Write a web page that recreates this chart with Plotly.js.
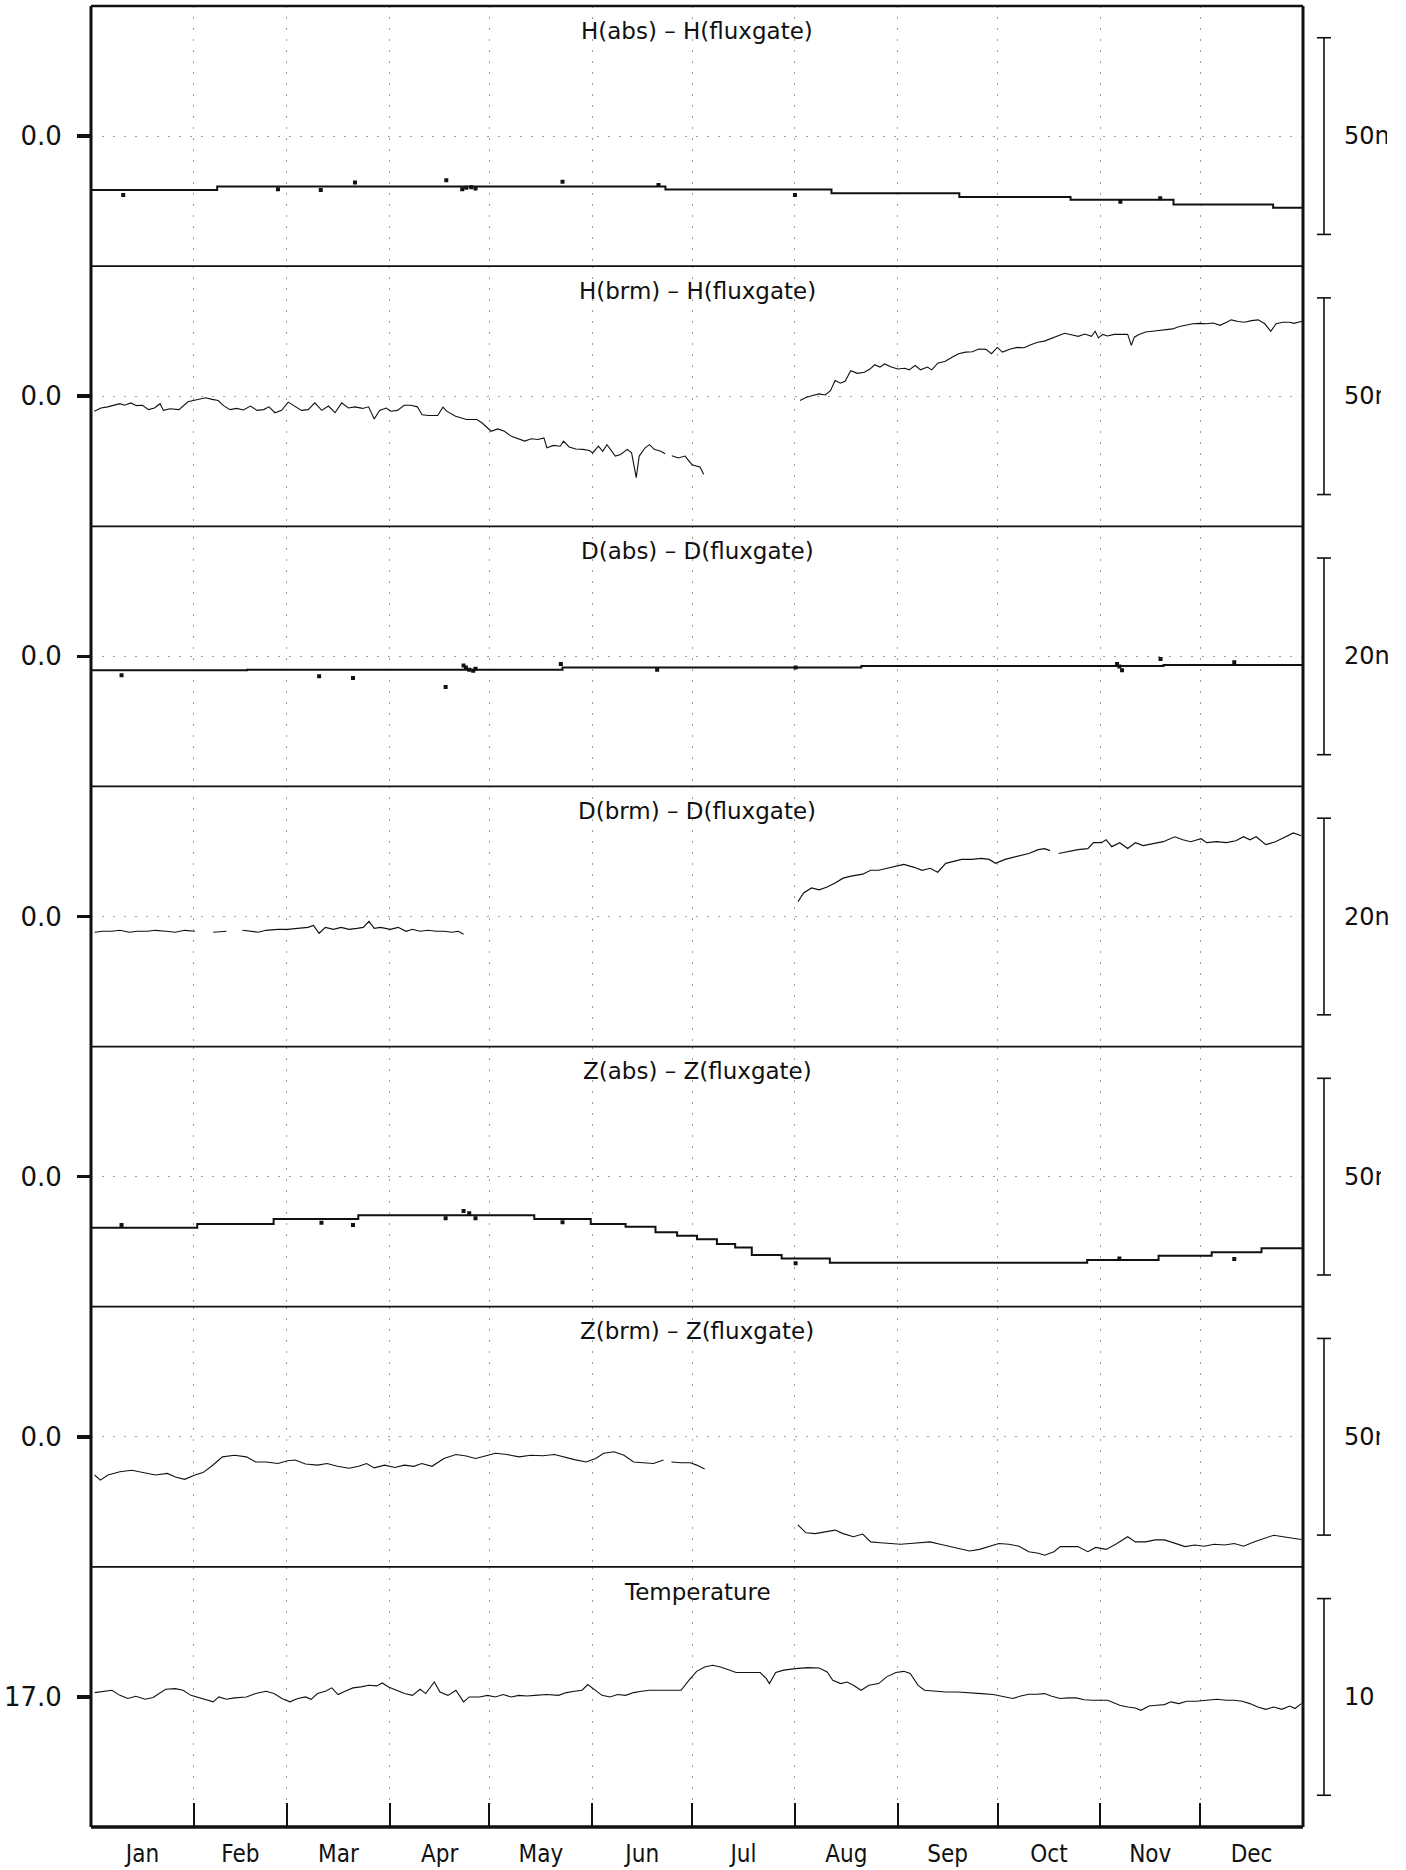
<!DOCTYPE html>
<html>
<head>
<meta charset="utf-8">
<script src="https://cdn.plot.ly/plotly-3.0.1.min.js"></script>
<style>
  html, body { margin: 0; padding: 0; background: #fff; overflow: hidden; }
  #wrap { position: relative; width: 1406px; height: 1870px; }
  #chart { position: absolute; left: 0; top: 0; width: 1406px; height: 1870px; }
  /* page edge past the scale labels */
  #edge { position: absolute; top: 0; left: 1376px; width: 30px; height: 1870px; background: #fff;
          clip-path: polygon(11px 0, 30px 0, 30px 100%, 4px 100%, 4px 1300px, 5px 1300px, 5px 1050px, 12px 1050px, 12px 530px, 5px 530px, 5px 268px, 11px 268px); }
</style>
</head>
<body>
<div id="wrap"><div id="chart"></div><div id="edge"></div></div>
<script>
// Day-of-year axis (non-leap year)
const monthStarts = [31, 59, 90, 120, 151, 181, 212, 243, 273, 304, 334];
const monthMids = [15.5, 45, 74.5, 105, 135.5, 166, 196.5, 227.5, 258, 288.5, 319, 349.5];
const monthNames = ['Jan', 'Feb', 'Mar', 'Apr', 'May', 'Jun', 'Jul', 'Aug', 'Sep', 'Oct', 'Nov', 'Dec'];

// Panel headings, scale bars and reference levels
const panelTitles = ['H(abs) – H(fluxgate)', 'H(brm) – H(fluxgate)', 'D(abs) – D(fluxgate)',
                     'D(brm) – D(fluxgate)', 'Z(abs) – Z(fluxgate)', 'Z(brm) – Z(fluxgate)', 'Temperature'];
const scaleSpan = [50, 50, 20, 20, 50, 50, 10];
const scaleText = ['50nT', '50nT', '20nT', '20nT', '50nT', '50nT', '10'];
const refLevel = [0, 0, 0, 0, 0, 0, 17];
const refText = ['0.0', '0.0', '0.0', '0.0', '0.0', '0.0', '17.0'];

// H(abs) - H(fluxgate): adopted baseline (steps) and absolute observations
const hAbsStepDays = [0, 38, 173, 223, 261.5, 295, 326, 356, 365];
const hAbsStepVals = [-13.7, -12.8, -13.6, -14.5, -15.5, -16.2, -17.4, -18.2, -18.2];
const hAbsObsDays = [9.7, 56.3, 69.2, 79.5, 107, 111.8, 113, 114.5, 115.8, 142, 170.9, 212, 310, 322];
const hAbsObsVals = [-15.0, -13.5, -13.7, -11.8, -11.2, -13.5, -13.1, -13.0, -13.3, -11.6, -12.4, -15.0, -16.7, -15.8];

// H(brm) - H(fluxgate): daily differences (null = no data)
const hBrmDays = [1.0, 3.0, 5.0, 7.0, 8.7, 10.1, 12.0, 13.7, 15.5, 17.3, 19.1, 20.8, 21.8, 23.8, 26.5, 29.2, 31.8, 34.5, 36.5, 38.3,
  39.9, 41.9, 43.9, 45.9, 48.0, 50.0, 52.0, 53.6, 55.4, 57.4, 59.4, 61.4, 63.4, 65.4, 67.4, 69.5, 71.5, 73.5, 75.5, 77.5,
  79.5, 81.8, 83.6, 85.3, 86.9, 88.9, 90.3, 92.3, 94.3, 96.3, 98.3, 99.7, 101.7, 104.4, 106.0, 107.1, 109.8, 113.1, 116.2, 117.8,
  120.5, 122.5, 124.5, 126.6, 128.6, 130.6, 132.6, 134.6, 136.4, 137.3, 139.3, 141.3, 142.3, 144.0, 146.0, 148.1, 150.1, 151.1, 152.8, 154.1,
  155.4, 156.5, 157.9, 159.5, 161.5, 162.8, 164.2, 165.1, 166.9, 168.2, 169.6, 171.6, 172.9, 173.9, 174.9, 176.9, 178.9, 181.0, 183.4, 184.5,
  199,
  213.5, 215.3, 217.3, 219.3, 221.1, 222.7, 224.1, 225.7, 227.1, 228.8, 230.8, 232.9, 234.6, 236.0, 237.6, 239.0, 241.0, 243.0, 245.1, 246.4,
  248.2, 249.8, 251.9, 253.2, 255.0, 257.3, 259.3, 261.3, 263.4, 265.4, 267.4, 269.5, 271.2, 272.9, 274.5, 276.9, 279.0, 281.0, 283.0, 285.1,
  287.1, 289.1, 291.2, 293.2, 295.2, 297.3, 299.3, 301.3, 302.4, 303.4, 304.7, 306.1, 308.1, 310.1, 312.2, 313.3, 314.2, 315.6, 317.6, 319.6,
  321.7, 323.7, 325.7, 327.8, 329.8, 331.8, 333.9, 335.9, 337.9, 340.0, 342.0, 343.4, 345.4, 347.4, 349.5, 351.5, 353.5, 355.3, 356.9, 358.9,
  361.0, 362.3, 365.0];
const hBrmVals = [-3.8, -3.0, -2.7, -2.3, -1.9, -2.3, -1.7, -2.4, -2.3, -3.4, -3.0, -1.9, -3.6, -3.2, -3.4, -1.4, -1.0, -0.4, -0.8, -1.1,
  -2.4, -3.4, -3.1, -3.5, -2.5, -3.6, -3.4, -2.7, -4.2, -3.6, -1.5, -2.5, -3.6, -3.4, -1.7, -3.6, -2.5, -4.2, -1.7, -3.0,
  -2.7, -3.1, -2.7, -5.8, -3.6, -3.0, -3.8, -3.6, -2.3, -2.3, -2.7, -4.7, -4.9, -4.9, -2.8, -3.8, -5.1, -5.9, -5.9, -6.8,
  -8.9, -8.3, -8.9, -10.2, -10.8, -11.4, -10.8, -11.0, -10.6, -13.1, -12.5, -12.7, -11.4, -12.9, -13.4, -13.5, -13.8, -14.4, -12.7, -14.0,
  -12.3, -13.5, -15.2, -14.8, -13.5, -14.4, -20.7, -15.2, -13.1, -12.3, -13.5, -14.0, -14.6, null, -15.1, -15.7, -15.2, -17.4, -18.0, -19.8,
  null,
  -1.1, -0.3, 0.2, 0.6, 0.3, 1.4, 4.0, 3.3, 3.8, 6.5, 5.8, 6.1, 6.9, 8.0, 7.4, 8.2, 7.4, 6.9, 7.1, 6.7,
  7.8, 6.7, 7.4, 6.7, 8.4, 8.9, 9.9, 10.8, 11.2, 11.3, 12.0, 11.9, 10.8, 12.4, 11.2, 12.0, 12.4, 12.3, 13.1, 13.7,
  14.0, 14.7, 15.4, 16.0, 15.6, 15.2, 15.8, 15.2, 16.5, 14.8, 15.7, 15.3, 15.7, 15.7, 15.7, 12.9, 15.0, 15.7, 16.3, 16.5,
  16.7, 16.9, 17.1, 17.7, 18.0, 18.4, 18.5, 18.4, 18.6, 18.0, 18.8, 19.4, 19.0, 18.8, 19.2, 19.4, 18.4, 16.5, 18.4, 18.8,
  18.8, 18.5, 19.1];

// D(abs) - D(fluxgate)
const dAbsStepDays = [0, 47, 142, 232, 323, 365];
const dAbsStepVals = [-1.42, -1.36, -1.12, -0.98, -0.88, -0.88];
const dAbsObsDays = [9.2, 68.7, 78.9, 106.8, 112.2, 112.9, 113.9, 115.1, 115.8, 141.5, 170.5, 212.2, 309, 309.7, 310.5, 322.1, 344.3];
const dAbsObsVals = [-1.93, -2.03, -2.2, -3.12, -0.92, -1.12, -1.36, -1.46, -1.25, -0.78, -1.36, -1.12, -0.78, -1.02, -1.42, -0.27, -0.61];

// D(brm) - D(fluxgate)
const dBrmDays = [1.1, 3.5, 6.3, 8.7, 11.6, 14.0, 17.0, 19.4, 22.5, 25.4, 28.2, 31.3, 34, 36.8, 39.2, 40.8, 43,
  45.6, 48.0, 50.4, 52.7, 56.3, 59.2, 62.2, 65.3, 67.0, 68.7, 70.6, 73.0, 75.3, 77.7, 80.1, 82.0, 83.7, 85.3, 87.2,
  90.1, 92.5, 94.9, 96.8, 99.1, 101.5, 103.9, 106.3, 108.7, 110.6, 112.2, 160,
  212.9, 214.6, 217.0, 219.3, 221.7, 224.1, 226.5, 228.9, 232.4, 234.8, 237.2, 239.6, 242.0, 244.8, 247.9, 250.3, 252.7, 255.0,
  257.4, 259.8, 262.2, 265.3, 268.1, 270.5, 272.4, 275.3, 277.6, 280.5, 282.4, 285.3, 287.2, 288.8, 290,
  291.4, 294.3, 297.2, 300.2, 301.9, 304.3, 305.7, 307.4, 309.8, 312.2, 314.5, 316.9, 320.0, 322.9, 326.4, 328.8, 331.2, 334.3,
  336.0, 339.0, 341.9, 344.8, 347.1, 349.0, 350.9, 353.8, 356.7, 359.7, 362.1, 364.5];
const dBrmVals = [-1.6, -1.5, -1.5, -1.4, -1.6, -1.5, -1.5, -1.4, -1.5, -1.6, -1.4, -1.5, null, -1.6, -1.5, -1.5, null,
  -1.4, -1.5, -1.6, -1.4, -1.3, -1.3, -1.2, -1.1, -0.9, -1.7, -1.1, -1.3, -1.1, -1.3, -1.2, -1.1, -0.5, -1.2, -1.1,
  -1.3, -1.1, -1.5, -1.3, -1.5, -1.4, -1.5, -1.5, -1.6, -1.5, -1.8, null,
  1.5, 2.4, 2.9, 2.7, 3.0, 3.4, 3.9, 4.1, 4.3, 4.7, 4.7, 4.9, 5.1, 5.3, 5.0, 4.7, 4.9, 4.5,
  5.4, 5.6, 5.8, 5.8, 5.9, 5.8, 5.4, 5.8, 6.0, 6.3, 6.4, 6.8, 6.9, 6.7, null,
  6.4, 6.6, 6.8, 6.9, 7.5, 7.5, 7.8, 7.1, 7.5, 6.9, 7.5, 7.2, 7.4, 7.6, 8.1, 7.8, 7.6, 7.9,
  7.5, 7.6, 7.5, 7.7, 8.1, 7.8, 8.1, 7.3, 7.6, 8.1, 8.5, 8.2];

// Z(abs) - Z(fluxgate)
const zAbsStepDays = [0, 32, 55, 80.5, 133.5, 150.5, 161, 170, 176.5, 182.5, 188.5, 194, 199, 208, 222.5, 300, 321.5, 337.5, 352.5, 365];
const zAbsStepVals = [-13.0, -12.0, -10.75, -9.8, -10.75, -12.0, -12.7, -14.1, -15.0, -15.9, -17.1, -18.0, -19.9, -20.8, -21.9, -21.2, -20.1, -19.2, -18.2, -18.2];
const zAbsObsDays = [9.2, 69.4, 78.9, 106.8, 112.2, 113.9, 115.8, 142, 212.2, 309.7, 344.3];
const zAbsObsVals = [-12.3, -11.7, -12.3, -10.6, -8.7, -9.3, -10.6, -11.6, -22.0, -20.8, -20.9];

// Z(brm) - Z(fluxgate)
const zBrmDays = [1.1, 2.8, 5.1, 8.7, 12.3, 15.8, 19.4, 23.0, 25.4, 28.2, 31.3, 33.7, 36.1, 39.6, 43.2, 46.8, 49.6, 52.7, 56.3, 59.2,
  61.5, 64.6, 68.2, 71.1, 74.2, 77.7, 80.6, 83.0, 85.3, 88.4, 91.5, 94.4, 97.2, 99.6, 102.7, 106.3, 109.9, 113.0, 115.8, 118.7,
  121.8, 125.3, 128.9, 132.5, 136.0, 139.6, 142.5, 145.6, 149.1, 152.0, 154.4, 157.5, 160.5, 163.4, 166.3, 169.4, 172.4, 173.6,
  174.8, 177.7, 180.5, 182.4, 184.8, 199,
  212.9, 215.3, 218.1, 221.0, 224.1, 226.5, 229.6, 232.4, 234.8, 237.7, 240.8, 243.8, 246.7, 249.6, 252.7, 255.7, 258.6, 261.5, 264.6, 267.6,
  270.5, 273.4, 276.4, 279.5, 282.4, 285.3, 287.2, 290.0, 291.9, 294.8, 297.2, 300.2, 302.6, 305.7, 308.6, 312.2, 314.5, 317.6, 320.5, 323.3,
  326.4, 329.5, 332.4, 335.2, 338.3, 341.4, 344.3, 347.1, 350.2, 353.3, 356.2, 359.0, 362.1, 364.5];
const zBrmVals = [-9.7, -11.0, -9.7, -8.9, -8.5, -9.1, -9.7, -9.3, -10.2, -10.8, -9.7, -9.1, -7.6, -5.1, -4.7, -5.1, -6.4, -6.4, -6.8, -6.1,
  -5.9, -6.9, -7.2, -6.8, -7.5, -8.0, -7.5, -6.8, -7.9, -7.2, -7.8, -7.2, -7.5, -6.8, -7.5, -5.5, -4.5, -4.9, -5.5, -4.9,
  -4.2, -4.5, -5.1, -4.7, -4.8, -4.5, -5.2, -5.8, -6.4, -5.5, -4.2, -3.8, -4.7, -6.4, -6.6, -6.8, -5.9, null,
  -6.4, -6.6, -6.6, -7.2, -8.2, null,
  -22.4, -24.4, -24.6, -24.1, -23.7, -24.6, -25.4, -24.7, -26.7, -26.9, -27.1, -27.3, -27.1, -26.9, -26.7, -27.3, -27.9, -28.5, -29.0, -28.6,
  -27.9, -27.1, -27.3, -27.8, -29.2, -29.6, -30.1, -29.2, -27.9, -27.8, -27.9, -29.2, -28.1, -28.6, -27.3, -25.4, -26.7, -26.7, -26.2, -26.2,
  -27.1, -27.9, -27.5, -27.8, -27.3, -27.5, -27.1, -27.8, -26.7, -25.8, -25.0, -25.4, -25.8, -26.1];

// Sensor temperature
const tempDays = [1.1, 3.5, 6.3, 8.7, 11.1, 13.5, 16.3, 18.7, 20.6, 22.5, 25.4, 27.7, 30.1, 32.5, 34.9, 36.8, 38.5, 40.8, 43.2, 46.8,
  49.6, 52.7, 55.1, 57.5, 59.9, 62.3, 64.6, 66.3, 68.2, 70.6, 72.5, 74.4, 76.5, 78.9, 81.3, 83.7, 86.1, 87.7, 89.6, 92.0,
  94.4, 96.8, 99.1, 100.8, 103.4, 105.1, 107.5, 109.9, 112.2, 113.9, 117.0, 119.4, 121.8, 124.1, 126.5, 128.9, 131.3, 133.7, 137.2, 140.8,
  143.2, 145.6, 147.9, 149.6, 151.5, 153.9, 156.3, 158.6, 161.0, 163.4, 165.8, 168.2, 172.9, 177.7, 180.1, 182.4, 184.8, 187.2, 189.6, 192.0,
  194.3, 197.9, 201.5, 203.4, 204.3, 206.2, 208.6, 212.2, 215.8, 219.3, 221.7, 223.4, 225.8, 227.7, 229.6, 231.9, 234.3, 237.2, 239.6, 242.4,
  244.8, 246.7, 249.1, 251.0, 253.8, 257.4, 261.0, 264.5, 268.1, 271.7, 275.3, 277.6, 280.0, 282.4, 284.8, 287.2, 289.1, 291.9, 294.3, 296.7,
  299.1, 301.4, 306.2, 309.8, 312.2, 314.5, 316.2, 318.6, 321.0, 323.3, 325.2, 327.6, 330.0, 332.9, 336.0, 339.0, 341.9, 344.3, 346.7, 349.0,
  351.4, 353.8, 356.2, 358.6, 361.0, 362.6, 364.5];
const tempVals = [17.22, 17.29, 17.34, 17.08, 16.92, 17.03, 16.88, 16.97, 17.17, 17.39, 17.42, 17.34, 17.08, 16.95, 16.83, 16.75, 17.00, 16.88, 16.95, 17.00,
  17.17, 17.29, 17.17, 16.92, 16.75, 16.92, 17.00, 16.88, 17.17, 17.29, 17.46, 17.12, 17.29, 17.46, 17.51, 17.59, 17.56, 17.71, 17.51, 17.34,
  17.17, 17.08, 17.39, 17.17, 17.76, 17.25, 17.08, 17.34, 16.75, 17.00, 17.00, 17.08, 17.00, 17.12, 17.00, 17.08, 17.05, 17.08, 17.12, 17.08,
  17.22, 17.29, 17.34, 17.63, 17.39, 17.08, 17.00, 17.12, 17.08, 17.22, 17.29, 17.34, 17.34, 17.34, 17.85, 18.30, 18.52, 18.61, 18.52, 18.36,
  18.24, 18.24, 18.24, 17.93, 17.68, 18.24, 18.36, 18.44, 18.49, 18.47, 18.27, 17.85, 17.68, 17.76, 17.59, 17.34, 17.59, 17.68, 18.02, 18.24,
  18.30, 18.19, 17.59, 17.34, 17.29, 17.25, 17.25, 17.22, 17.17, 17.12, 17.00, 16.92, 17.05, 17.14, 17.14, 17.17, 17.05, 16.92, 16.95, 16.95,
  16.86, 16.83, 16.83, 16.58, 16.49, 16.44, 16.32, 16.54, 16.58, 16.61, 16.75, 16.66, 16.78, 16.78, 16.83, 16.88, 16.83, 16.83, 16.78, 16.66,
  16.49, 16.37, 16.49, 16.37, 16.54, 16.41, 16.66];

const INK = '#111';
const nPanels = 7;
const barFrac = 0.7566;           // share of a panel's height taken by its scale bar
const yId = i => (i === 0 ? 'y' : 'y' + (i + 1));
const yKey = i => (i === 0 ? 'yaxis' : 'yaxis' + (i + 1));

function lineTrace(i, x, y, w, shape) {
  return { type: 'scatter', mode: 'lines', x: x, y: y, xaxis: 'x', yaxis: yId(i),
           line: { color: INK, width: w, shape: shape || 'linear' }, connectgaps: false, hoverinfo: 'skip' };
}
function dotTrace(i, x, y) {
  return { type: 'scatter', mode: 'markers', x: x, y: y, xaxis: 'x', yaxis: yId(i),
           marker: { symbol: 'square', size: 4, color: INK }, hoverinfo: 'skip' };
}

const traces = [
  lineTrace(0, hAbsStepDays, hAbsStepVals, 2, 'hv'),
  dotTrace(0, hAbsObsDays, hAbsObsVals),
  lineTrace(1, hBrmDays, hBrmVals, 1.1),
  lineTrace(2, dAbsStepDays, dAbsStepVals, 2, 'hv'),
  dotTrace(2, dAbsObsDays, dAbsObsVals),
  lineTrace(3, dBrmDays, dBrmVals, 1.2),
  lineTrace(4, zAbsStepDays, zAbsStepVals, 2, 'hv'),
  dotTrace(4, zAbsObsDays, zAbsObsVals),
  lineTrace(5, zBrmDays, zBrmVals, 1.1),
  lineTrace(6, tempDays, tempVals, 1.1)
];

const layout = {
  width: 1406, height: 1870,
  margin: { l: 91, r: 103, t: 6, b: 43 },
  paper_bgcolor: '#fff', plot_bgcolor: '#fff',
  showlegend: false,
  font: { family: 'DejaVu Sans, sans-serif', color: INK },
  xaxis: {
    range: [0, 365], anchor: yId(nPanels - 1), fixedrange: true,
    showline: false, zeroline: false, showgrid: false,
    tickmode: 'array', tickvals: monthMids, ticktext: monthNames, ticks: '',
    tickfont: { family: 'DejaVu Sans Condensed, Liberation Sans Narrow, sans-serif', size: 24, color: INK },
    ticklabelstandoff: 10,
    minor: { tickmode: 'array', tickvals: monthStarts, ticks: 'inside', ticklen: 24, tickwidth: 2, tickcolor: INK,
             showgrid: true, gridcolor: '#a0a0a0', gridwidth: 1, griddash: '2px,9px' }
  },
  shapes: [],
  annotations: []
};

for (let i = 0; i < nPanels; i++) {
  const half = scaleSpan[i] / barFrac / 2;
  const top = 1 - i / nPanels, bottom = 1 - (i + 1) / nPanels;
  layout[yKey(i)] = {
    domain: [bottom, top], anchor: 'x', fixedrange: true,
    range: [refLevel[i] - half, refLevel[i] + half],
    showline: false, zeroline: false,
    tickmode: 'array', tickvals: [refLevel[i]], ticktext: [refText[i]],
    ticks: 'outside', ticklen: 13, tickwidth: 3.5, tickcolor: INK,
    ticklabelstandoff: 10,
    tickfont: { family: 'DejaVu Sans, sans-serif', size: 26, color: INK },
    showgrid: i < nPanels - 1, gridcolor: '#a0a0a0', gridwidth: 1, griddash: '2px,9px'
  };
  // panel heading
  layout.annotations.push({
    text: panelTitles[i], xref: 'paper', x: 0.5, xanchor: 'center',
    yref: yId(i) + ' domain', y: 0.905, yanchor: 'middle', showarrow: false,
    font: { family: 'DejaVu Sans, sans-serif', size: 23, color: INK }
  });
  // scale bar label
  layout.annotations.push({
    text: scaleText[i], xref: 'paper', x: 1.0322, xanchor: 'left',
    yref: yId(i) + ' domain', y: 0.5, yanchor: 'middle', showarrow: false,
    font: { family: 'DejaVu Sans, sans-serif', size: 24, color: INK }
  });
  // scale bar with end caps
  const bx = 1.0173, cap = 0.0058, b0 = 0.122, b1 = 0.878, yd = yId(i) + ' domain';
  layout.shapes.push({ type: 'line', xref: 'paper', yref: yd, x0: bx, x1: bx, y0: b0, y1: b1, line: { color: INK, width: 1.6 } });
  layout.shapes.push({ type: 'line', xref: 'paper', yref: yd, x0: bx - cap, x1: bx + cap, y0: b0, y1: b0, line: { color: INK, width: 1.6 } });
  layout.shapes.push({ type: 'line', xref: 'paper', yref: yd, x0: bx - cap, x1: bx + cap, y0: b1, y1: b1, line: { color: INK, width: 1.6 } });
}

// panel frames
for (let k = 0; k <= nPanels; k++) {
  const yy = 1 - k / nPanels;
  layout.shapes.push({ type: 'line', xref: 'paper', yref: 'paper', x0: 0, x1: 1, y0: yy, y1: yy,
                       line: { color: INK, width: k === nPanels ? 3.5 : (k === 0 ? 2.5 : 1.8) } });
}
layout.shapes.push({ type: 'line', xref: 'paper', yref: 'paper', x0: 0, x1: 0, y0: 0, y1: 1, line: { color: INK, width: 3 } });
layout.shapes.push({ type: 'line', xref: 'paper', yref: 'paper', x0: 1, x1: 1, y0: 0, y1: 1, line: { color: INK, width: 3 } });

Plotly.newPlot('chart', traces, layout, { displayModeBar: false, staticPlot: true });
</script>
</body>
</html>
